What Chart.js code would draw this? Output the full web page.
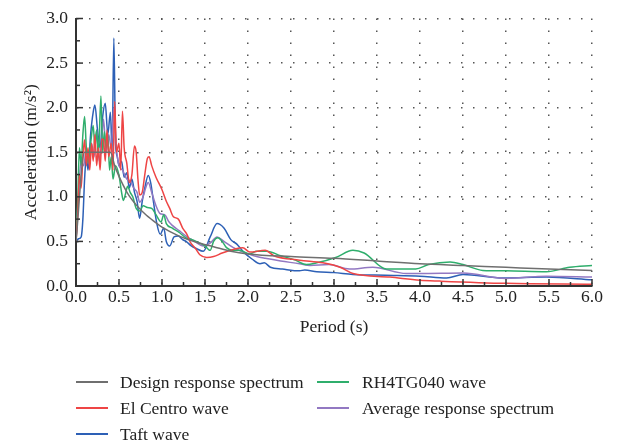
<!DOCTYPE html>
<html>
<head>
<meta charset="utf-8">
<script src="https://cdn.jsdelivr.net/npm/chart.js@4/dist/chart.umd.min.js"></script>
<style>
  body { margin: 0; background: #fff; }
  #wrap { position: relative; width: 621px; height: 447px; font-family: "Liberation Serif", serif; color: #222; }
  #legend { position: absolute; left: 0; top: 0; width: 621px; height: 447px; pointer-events: none; }
  .item { position: absolute; font-size: 17.5px; line-height: 20px; white-space: nowrap; }
  .item i { position: absolute; top: 9px; width: 32px; height: 2px; }
  .item span { position: absolute; }
</style>
</head>
<body>
<div id="wrap">
  <canvas id="chart" width="621" height="345"></canvas>
  <div id="legend"></div>
</div>
<script>
// Design response spectrum
const designT = [0, 0.1, 0.4, 0.45, 0.5, 0.6, 0.7, 0.8, 0.9, 1.0, 1.2, 1.4, 1.6, 1.8, 2.0, 2.5, 3.0, 3.5, 4.0, 4.5, 5.0, 5.5, 6.0];
const designA = [0.50, 1.50, 1.50, 1.35, 1.23, 1.04, 0.91, 0.81, 0.73, 0.66, 0.56, 0.49, 0.44, 0.39, 0.36, 0.33, 0.31, 0.28, 0.25, 0.23, 0.21, 0.19, 0.175];

// El Centro wave
const elCentroT = [0, 0.02, 0.04, 0.06, 0.08, 0.10, 0.12, 0.14, 0.16, 0.18, 0.20, 0.22, 0.24, 0.26, 0.28, 0.30, 0.32, 0.34, 0.36, 0.38, 0.41, 0.43, 0.45, 0.47, 0.50, 0.52, 0.54, 0.56, 0.59, 0.62, 0.65, 0.68, 0.70, 0.72, 0.74, 0.77, 0.80, 0.83, 0.85, 0.88, 0.93, 1.00, 1.05, 1.09, 1.13, 1.19, 1.24, 1.29, 1.33, 1.39, 1.44, 1.52, 1.60, 1.70, 1.83, 1.94, 2.02, 2.20, 2.30, 2.60, 2.87, 3.07, 3.22, 3.65, 4.00, 4.23, 5.00, 6.00];
const elCentroA = [0.50, 0.80, 1.25, 1.10, 1.45, 1.64, 1.35, 1.55, 1.30, 1.60, 1.40, 1.70, 1.35, 1.55, 1.30, 1.65, 1.64, 1.40, 1.75, 1.45, 1.60, 1.30, 2.07, 1.50, 1.60, 1.30, 1.96, 1.55, 1.38, 1.16, 1.25, 1.57, 1.50, 1.20, 1.02, 1.05, 1.25, 1.43, 1.45, 1.35, 1.22, 1.08, 0.95, 0.87, 0.78, 0.75, 0.65, 0.58, 0.49, 0.42, 0.35, 0.32, 0.33, 0.37, 0.41, 0.43, 0.38, 0.40, 0.34, 0.29, 0.26, 0.21, 0.14, 0.10, 0.065, 0.055, 0.03, 0.02];

// Taft wave
const taftT = [0, 0.03, 0.06, 0.08, 0.10, 0.12, 0.14, 0.17, 0.20, 0.22, 0.25, 0.28, 0.31, 0.34, 0.37, 0.40, 0.42, 0.44, 0.46, 0.48, 0.50, 0.53, 0.56, 0.59, 0.62, 0.65, 0.68, 0.71, 0.74, 0.77, 0.80, 0.84, 0.87, 0.90, 0.94, 0.98, 1.02, 1.05, 1.09, 1.14, 1.19, 1.24, 1.28, 1.34, 1.40, 1.48, 1.56, 1.64, 1.72, 1.80, 1.87, 1.95, 2.05, 2.14, 2.19, 2.26, 2.40, 2.60, 2.66, 2.80, 3.00, 3.22, 3.60, 4.00, 4.31, 4.50, 4.97, 5.47, 6.00];
const taftA = [0.50, 0.53, 0.55, 0.75, 1.20, 1.45, 1.30, 1.70, 1.95, 2.03, 1.75, 1.55, 1.90, 2.05, 1.70, 1.95, 1.50, 2.78, 1.60, 1.45, 1.35, 1.40, 1.22, 1.27, 1.10, 1.20, 1.05, 0.95, 0.76, 0.95, 1.10, 1.24, 1.15, 0.95, 0.70, 0.58, 0.65, 0.50, 0.45, 0.55, 0.56, 0.52, 0.50, 0.45, 0.42, 0.39, 0.55, 0.70, 0.65, 0.52, 0.47, 0.38, 0.30, 0.25, 0.26, 0.21, 0.19, 0.17, 0.18, 0.16, 0.15, 0.13, 0.12, 0.11, 0.09, 0.13, 0.09, 0.10, 0.07];

// RH4TG040 wave
const rhT = [0, 0.02, 0.04, 0.06, 0.08, 0.10, 0.12, 0.14, 0.17, 0.20, 0.22, 0.24, 0.26, 0.29, 0.31, 0.33, 0.35, 0.37, 0.39, 0.41, 0.43, 0.46, 0.50, 0.53, 0.55, 0.58, 0.60, 0.63, 0.66, 0.70, 0.74, 0.78, 0.83, 0.88, 0.93, 0.99, 1.02, 1.05, 1.12, 1.20, 1.28, 1.35, 1.42, 1.50, 1.56, 1.60, 1.65, 1.70, 1.75, 1.82, 1.90, 2.02, 2.10, 2.22, 2.38, 2.55, 2.68, 2.80, 3.02, 3.22, 3.35, 3.61, 3.95, 4.10, 4.35, 4.50, 4.73, 5.00, 5.47, 5.74, 6.00];
const rhA = [0.50, 0.95, 1.55, 1.35, 1.70, 1.90, 1.55, 1.38, 1.60, 1.80, 1.55, 1.75, 1.45, 2.13, 1.50, 1.73, 1.55, 1.70, 1.30, 1.45, 1.20, 1.35, 1.24, 1.05, 0.96, 1.05, 1.12, 1.05, 1.00, 0.87, 0.84, 0.90, 0.88, 0.87, 0.80, 0.72, 0.80, 0.70, 0.65, 0.60, 0.54, 0.52, 0.49, 0.45, 0.40, 0.50, 0.54, 0.50, 0.43, 0.40, 0.40, 0.36, 0.39, 0.39, 0.34, 0.29, 0.24, 0.26, 0.32, 0.40, 0.37, 0.19, 0.19, 0.24, 0.27, 0.24, 0.175, 0.17, 0.16, 0.21, 0.23];

// Average response spectrum
const avgT = [0, 0.03, 0.06, 0.09, 0.12, 0.15, 0.18, 0.21, 0.24, 0.27, 0.30, 0.32, 0.35, 0.38, 0.41, 0.44, 0.47, 0.50, 0.54, 0.59, 0.63, 0.67, 0.71, 0.74, 0.78, 0.81, 0.84, 0.88, 0.93, 0.98, 1.03, 1.08, 1.12, 1.20, 1.28, 1.38, 1.48, 1.56, 1.64, 1.72, 1.83, 2.00, 2.10, 2.20, 2.38, 2.60, 2.72, 2.94, 3.18, 3.45, 3.84, 4.00, 4.50, 5.00, 5.47, 6.00];
const avgA = [0.50, 1.05, 1.40, 1.35, 1.55, 1.40, 1.60, 1.45, 1.75, 1.40, 1.65, 1.87, 1.50, 1.70, 1.55, 2.00, 1.55, 1.35, 1.30, 1.20, 1.18, 1.10, 1.05, 0.94, 1.00, 1.10, 1.16, 1.05, 0.90, 0.81, 0.80, 0.72, 0.68, 0.62, 0.56, 0.50, 0.45, 0.48, 0.55, 0.50, 0.43, 0.36, 0.33, 0.31, 0.28, 0.25, 0.23, 0.24, 0.19, 0.21, 0.14, 0.14, 0.145, 0.085, 0.11, 0.10];

function pts(t, a){
  return t.map((x, i) => ({x: x, y: a[i]}));
}

function isMajor(v){
  return Math.abs(v * 2 - Math.round(v * 2)) < 1e-6;
}

const series = [
  {label: 'Design response spectrum', t: designT, a: designA, color: '#6f6f6f', col: 0, row: 0},
  {label: 'El Centro wave', t: elCentroT, a: elCentroA, color: '#ee4545', col: 0, row: 1},
  {label: 'RH4TG040 wave', t: rhT, a: rhA, color: '#2fae6c', col: 1, row: 0},
  {label: 'Average response spectrum', t: avgT, a: avgA, color: '#9278c2', col: 1, row: 1},
  {label: 'Taft wave', t: taftT, a: taftA, color: '#2d60b6', col: 0, row: 2}
];

const FONT = '"Liberation Serif", serif';

// inward tick marks on the two axes
const inwardTicks = {
  id: 'inwardTicks',
  afterDatasetsDraw(chart){
    const {ctx, chartArea, scales} = chart;
    ctx.save();
    ctx.strokeStyle = '#333';
    ctx.lineWidth = 1.5;
    scales.x.ticks.forEach(tk => {
      const px = scales.x.getPixelForValue(tk.value);
      const len = isMajor(tk.value) ? 7 : 4;
      ctx.beginPath();
      ctx.moveTo(px, chartArea.bottom);
      ctx.lineTo(px, chartArea.bottom - len);
      ctx.stroke();
    });
    scales.y.ticks.forEach(tk => {
      const py = scales.y.getPixelForValue(tk.value);
      const len = isMajor(tk.value) ? 7 : 4;
      ctx.beginPath();
      ctx.moveTo(chartArea.left, py);
      ctx.lineTo(chartArea.left + len, py);
      ctx.stroke();
    });
    ctx.restore();
  }
};

const ctx = document.getElementById('chart');
const myChart = new Chart(ctx, {
  type: 'line',
  plugins: [inwardTicks],
  data: {
    datasets: series.map(s => ({
      label: s.label,
      data: pts(s.t, s.a),
      borderColor: s.color,
      backgroundColor: s.color,
      borderWidth: 1.5,
      pointRadius: 0,
      cubicInterpolationMode: 'monotone',
      fill: false
    }))
  },
  options: {
    animation: false,
    responsive: false,
    devicePixelRatio: 1,
    events: [],
    layout: {
      padding: {left: 0, right: 29, top: 12, bottom: 0}
    },
    plugins: {
      legend: {display: false},
      tooltip: {enabled: false}
    },
    scales: {
      x: {
        type: 'linear',
        min: 0,
        max: 6,
        afterFit: s => { s.height = 59; },
        afterBuildTicks: s => { s.ticks = Array.from({length: 25}, (_, i) => ({value: i * 0.25})); },
        ticks: {
          autoSkip: false,
          maxRotation: 0,
          padding: 1,
          color: '#222',
          font: {family: FONT, size: 17.5},
          callback: v => isMajor(v) ? v.toFixed(1) : ''
        },
        grid: {
          drawTicks: false,
          lineWidth: 1.5,
          color: c => (c.tick && isMajor(c.tick.value) && c.tick.value > 0) ? '#555' : 'rgba(0,0,0,0)'
        },
        border: {display: true, color: '#333', width: 2, dash: [1.5, 10.5]},
        title: {
          display: true,
          text: 'Period (s)',
          color: '#222',
          font: {family: FONT, size: 17.5},
          padding: {top: 2, bottom: 7}
        }
      },
      y: {
        type: 'linear',
        min: 0,
        max: 3,
        afterFit: s => { s.width = 76; },
        afterBuildTicks: s => { s.ticks = Array.from({length: 13}, (_, i) => ({value: i * 0.25})); },
        ticks: {
          autoSkip: false,
          padding: 8,
          color: '#222',
          font: {family: FONT, size: 17.5},
          callback: v => isMajor(v) ? v.toFixed(1) : ''
        },
        grid: {
          drawTicks: false,
          lineWidth: 1.5,
          color: c => (c.tick && isMajor(c.tick.value) && c.tick.value > 0) ? '#555' : 'rgba(0,0,0,0)'
        },
        border: {display: true, color: '#333', width: 2, dash: [1.5, 10.5]},
        title: {
          display: true,
          text: 'Acceleration (m/s²)',
          color: '#222',
          font: {family: FONT, size: 17.5},
          padding: {top: 21, bottom: 0}
        }
      }
    }
  }
});

// legend below the chart, two columns
const legend = document.getElementById('legend');
const colX = [76, 317];
const rowY = [372, 398, 424];
series.forEach(s => {
  const d = document.createElement('div');
  d.className = 'item';
  d.style.left = colX[s.col] + 'px';
  d.style.top = rowY[s.row] + 'px';
  d.innerHTML = `<i style="background:${s.color}"></i><span style="left:${s.col ? 45 : 44}px">${s.label}</span>`;
  legend.appendChild(d);
});
</script>
</body>
</html>
